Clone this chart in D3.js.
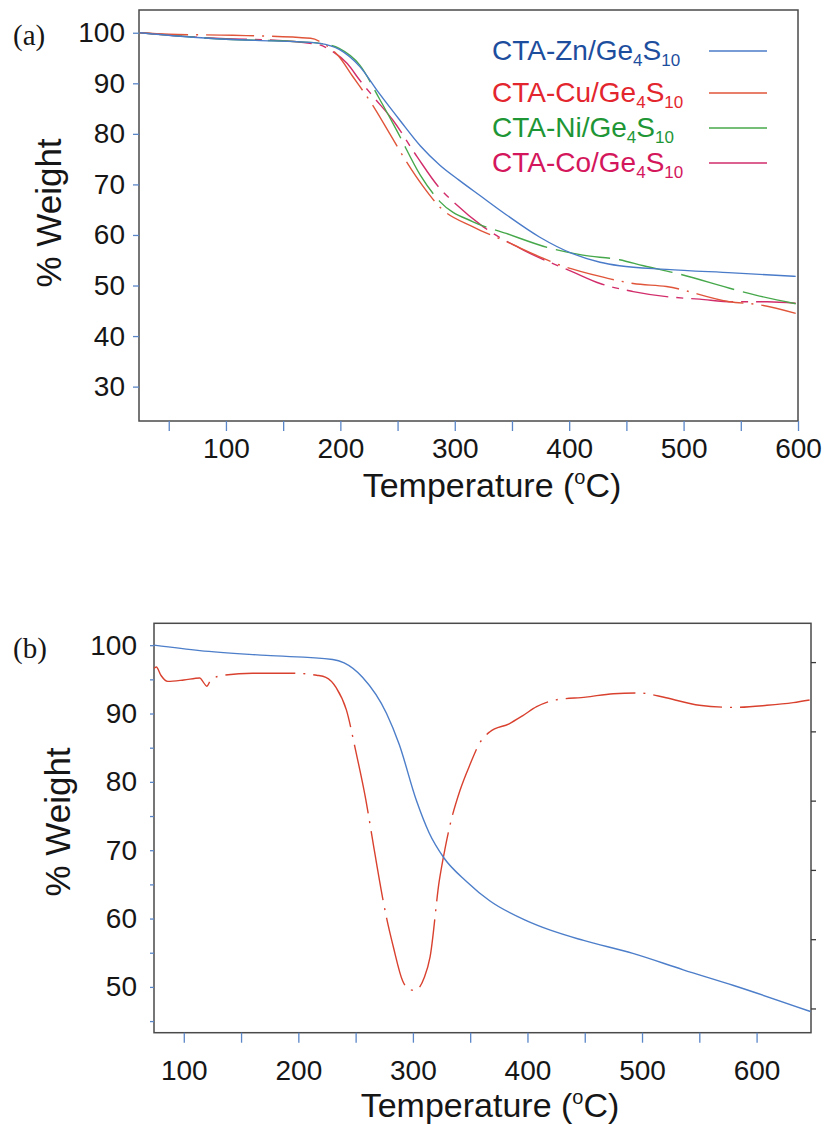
<!DOCTYPE html>
<html>
<head>
<meta charset="utf-8">
<script src="https://cdn.jsdelivr.net/npm/d3@7"></script>
<style>
  body { margin: 0; background: #fff; }
  svg text { font-family: "Liberation Sans", Arial, Helvetica, sans-serif; fill: #161616; }
</style>
</head>
<body>
<svg id="chart" width="826" height="1125"></svg>
<script>
// Panel (a) : TGA curves of the four CTA-M/Ge4S10 samples
const tempTicksA = [50, 100, 150, 200, 250, 300, 350, 400, 450, 500, 550, 600];
const weightTicksA = [30, 40, 50, 60, 70, 80, 90, 100];
const metalsA = ["Zn", "Cu", "Ni", "Co"];

const znA = [[25,100],[60,99.3],[100,98.7],[140,98.4],[165,98.2],[182,97.9],[199,96.7],[217,93.3],[234,88.0],[252,82.7],[270,77.6],[287,73.8],[304,70.8],[322,67.8],[345,64.0],[374,59.6],[403,56.3],[427,54.6],[444,53.9],[485,53.2],[543,52.5],[598,51.8]];
const cuA = [[25,100],[50,99.7],[106,99.5],[174,98.9],[185,97.9],[198,95.5],[211,91.3],[229,85.4],[243,80.1],[258,74.4],[272,69.7],[287,65.5],[316,61.6],[345,58.7],[377,55.4],[389,54.3],[427,51.8],[456,50.4],[485,49.8],[540,46.8],[566,46.2],[598,44.5]];
const niA = [[25,100],[100,98.7],[165,98.2],[182,97.9],[199,96.9],[217,93.6],[234,87.0],[249,80.8],[270,71.8],[287,66.6],[316,62.6],[345,60.3],[383,57.4],[412,56.0],[444,55.1],[465,53.9],[494,52.4],[546,49.1],[563,48.1],[598,46.4]];
const coA = [[25,100],[100,98.8],[136,98.6],[182,97.6],[191,96.6],[206,93.9],[217,90.6],[229,87.3],[246,82.7],[267,75.5],[287,69.2],[299,66.5],[325,61.6],[360,57.0],[403,52.7],[427,50.4],[456,48.8],[485,47.8],[514,47.3],[543,46.8],[573,46.8],[598,46.5]];

// Panel (b) : TGA (blue) and DTG (red) of CTA-Zn/Ge4S10
const tempTicksB = [100, 150, 200, 250, 300, 350, 400, 450, 500, 550, 600];
const weightTicksB = [45, 50, 55, 60, 65, 70, 75, 80, 85, 90, 95, 100];
const rightTicksB = [0, 1, 2, 3, 4, 5];

const tgaB = [[74,100],[114,99.2],[172,98.5],[230,97.9],[240,97.4],[256,95.3],[277,90.0],[288,85.5],[303,77.3],[314,72.6],[327,68.9],[347,65.4],[367,62.6],[399,59.7],[420,58.3],[449,56.8],[492,54.9],[536,52.5],[580,50.2],[647,46.4]];
const dtgB = [[74,96.6],[76,96.8],[80,95.6],[86,94.7],[100,94.9],[114,95.2],[117,94.6],[120,94.0],[124,95.0],[135,95.6],[160,95.9],[195,95.9],[216,95.6],[224,95.3],[233,93.8],[242,90.5],[250,84.6],[259,77.3],[266,70.3],[277,60.1],[283,55.8],[291,50.9],[297,49.6],[302,49.5],[310,51.4],[315,54.4],[323,65.5],[328,70.2],[332,73.4],[341,78.7],[350,82.6],[358,85.6],[367,87.3],[384,88.5],[396,89.7],[408,91.0],[425,92.0],[451,92.4],[475,92.9],[498,93.0],[521,92.3],[550,91.2],[580,90.9],[609,91.2],[632,91.6],[647,92.0]];

const tickBlue = "#5a86c8";
const svg = d3.select("#chart");

function styleAxis(sel, size) {
    sel.attr("font-family", null).attr("font-size", null);
    sel.select(".domain").remove();
    sel.selectAll(".tick line").attr("stroke", tickBlue).attr("stroke-width", 1.3);
    sel.selectAll(".tick text").attr("font-size", size).attr("fill", "#161616");
}

function axisTitles(g, cxT, byT, bxW, cyW) {
    const t = g.append("text")
        .attr("x", cxT).attr("y", byT)
        .attr("text-anchor", "middle")
        .attr("font-size", 34);
    t.append("tspan").text("Temperature (");
    t.append("tspan").attr("font-size", 20).attr("dy", -13).text("o");
    t.append("tspan").attr("dy", 13).text("C)");

    g.append("text")
        .attr("transform", `translate(${bxW},${cyW}) rotate(-90)`)
        .attr("text-anchor", "middle")
        .attr("font-size", 35)
        .text("% Weight");
}

function createChartA() {
    const x = d3.scaleLinear().domain([24, 600]).range([139, 798]);
    const y = d3.scaleLinear().domain([23.2, 104.5]).range([421, 10]);
    const g = svg.append("g");

    const colors = { Zn: "#4a7bc9", Cu: "#e0553a", Ni: "#46a84b", Co: "#d22d6b" };
    const textColors = { Zn: "#1d4e9e", Cu: "#e3262e", Ni: "#1e9636", Co: "#d4175c" };
    const dashes = { Zn: null, Cu: "48,8,2,8", Ni: "55,9", Co: "42,8,7,8" };
    const curves = { Zn: znA, Cu: cuA, Ni: niA, Co: coA };

    // cadre
    g.append("rect")
        .attr("x", x.range()[0]).attr("y", y.range()[1])
        .attr("width", x.range()[1] - x.range()[0])
        .attr("height", y.range()[0] - y.range()[1])
        .attr("fill", "none").attr("stroke", "#4a4a4a").attr("stroke-width", 1.5);

    const xAxis = g.append("g")
        .attr("transform", `translate(0,${y.range()[0]})`)
        .call(d3.axisBottom(x).tickValues(tempTicksA).tickSize(10).tickPadding(7)
            .tickFormat(d => d % 100 === 0 ? d : ""));
    styleAxis(xAxis, 28);

    const yAxis = g.append("g")
        .attr("transform", `translate(${x.range()[0]},0)`)
        .call(d3.axisLeft(y).tickValues(weightTicksA).tickSize(6).tickPadding(8));
    styleAxis(yAxis, 28);

    const line = d3.line()
        .x(d => x(d[0])).y(d => y(d[1]))
        .curve(d3.curveMonotoneX);

    ["Co", "Ni", "Cu", "Zn"].forEach(m => {
        g.append("path")
            .datum(curves[m])
            .attr("d", line)
            .attr("fill", "none")
            .attr("stroke", colors[m])
            .attr("stroke-width", 1.4)
            .attr("stroke-dasharray", dashes[m]);
    });

    // légende
    const baselines = [60, 102, 137, 172];
    metalsA.forEach((m, i) => {
        const t = g.append("text")
            .attr("x", 492).attr("y", baselines[i])
            .attr("font-size", 28)
            .style("fill", textColors[m]);
        t.append("tspan").text(`CTA-${m}/Ge`);
        t.append("tspan").attr("font-size", 17).attr("dy", 6).text("4");
        t.append("tspan").attr("dy", -6).text("S");
        t.append("tspan").attr("font-size", 17).attr("dy", 6).text("10");

        g.append("line")
            .attr("x1", 709).attr("x2", 767)
            .attr("y1", baselines[i] - 9).attr("y2", baselines[i] - 9)
            .attr("stroke", colors[m]).attr("stroke-width", 1.4);
    });

    g.append("text")
        .attr("x", 13).attr("y", 45)
        .attr("font-size", 29)
        .style("font-family", "'Liberation Serif', 'Times New Roman', serif")
        .text("(a)");

    axisTitles(g, 492, 497, 61, 213);
}

function createChartB() {
    const x = d3.scaleLinear().domain([74, 647.5]).range([154, 811]);
    const y = d3.scaleLinear().domain([43.3, 103.2]).range([1032.7, 623.3]);
    const y2 = d3.scaleLinear().domain([-0.35, 5.56]).range([1032.7, 623.3]);
    const g = svg.append("g");

    g.append("rect")
        .attr("x", x.range()[0]).attr("y", y.range()[1])
        .attr("width", x.range()[1] - x.range()[0])
        .attr("height", y.range()[0] - y.range()[1])
        .attr("fill", "none").attr("stroke", "#4a4a4a").attr("stroke-width", 1.5);

    const xAxis = g.append("g")
        .attr("transform", `translate(0,${y.range()[0]})`)
        .call(d3.axisBottom(x).tickValues(tempTicksB).tickSize(10).tickPadding(17)
            .tickFormat(d => d % 100 === 0 ? d : ""));
    styleAxis(xAxis, 28);

    const yAxis = g.append("g")
        .attr("transform", `translate(${x.range()[0]},0)`)
        .call(d3.axisLeft(y).tickValues(weightTicksB).tickSize(4).tickPadding(13)
            .tickFormat(d => d % 10 === 0 ? d : ""));
    styleAxis(yAxis, 28);

    // axe droit (DTG) sans étiquettes
    const yAxis2 = g.append("g")
        .attr("transform", `translate(${x.range()[1]},0)`)
        .call(d3.axisRight(y2).tickValues(rightTicksB).tickSize(5).tickFormat(""));
    yAxis2.select(".domain").remove();
    yAxis2.selectAll(".tick line").attr("stroke", "#3a3a3a").attr("stroke-width", 1.3);

    const line = d3.line()
        .x(d => x(d[0])).y(d => y(d[1]))
        .curve(d3.curveMonotoneX);

    g.append("path")
        .datum(dtgB)
        .attr("d", line)
        .attr("fill", "none")
        .attr("stroke", "#d9412f")
        .attr("stroke-width", 1.4)
        .attr("stroke-dasharray", "70,8,2,8");

    g.append("path")
        .datum(tgaB)
        .attr("d", line)
        .attr("fill", "none")
        .attr("stroke", "#4d7ec9")
        .attr("stroke-width", 1.4);

    g.append("text")
        .attr("x", 13).attr("y", 658)
        .attr("font-size", 29)
        .style("font-family", "'Liberation Serif', 'Times New Roman', serif")
        .text("(b)");

    axisTitles(g, 490, 1117, 70, 822);
}

createChartA();
createChartB();
</script>
</body>
</html>
